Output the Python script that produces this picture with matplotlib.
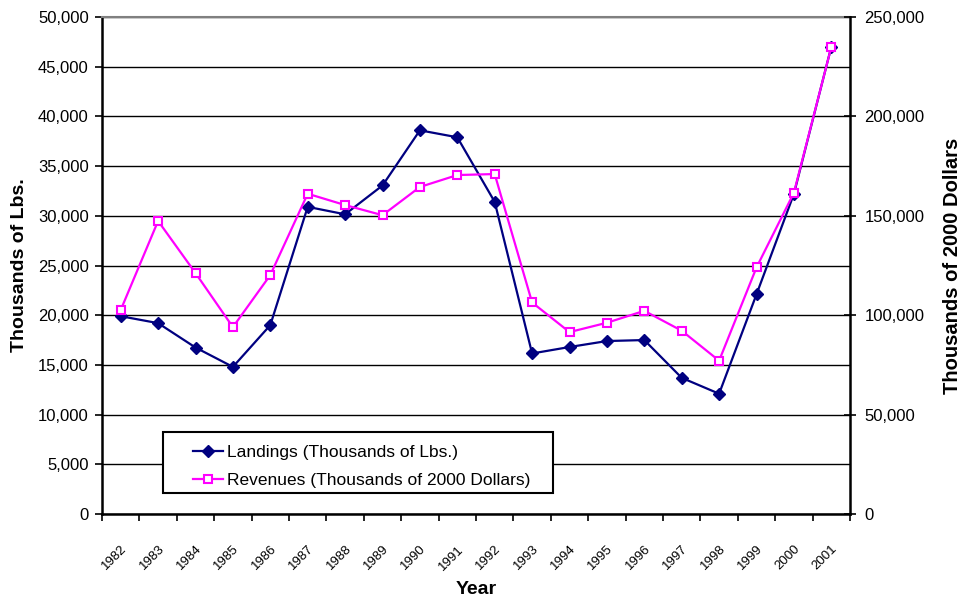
import numpy as np
import matplotlib.pyplot as plt
import matplotlib.transforms as mtransforms
from matplotlib.patches import Rectangle
from matplotlib.ticker import FuncFormatter

plt.rcParams['font.family'] = ['Liberation Sans', 'DejaVu Sans']

years = ['1982', '1983', '1984', '1985', '1986', '1987', '1988', '1989', '1990', '1991',
         '1992', '1993', '1994', '1995', '1996', '1997', '1998', '1999', '2000', '2001']
landings = [19900, 19200, 16750, 14800, 19000, 30900, 30150, 33050, 38600, 37900,
            31400, 16150, 16800, 17400, 17500, 13700, 12100, 22100, 32200, 47000]
revenues = [102600, 147400, 121200, 94000, 120200, 161100, 155400, 150300, 164500, 170500,
            171000, 106400, 91500, 96200, 102200, 92200, 77100, 124000, 161600, 234900]

navy = '#000080'
magenta = '#FF00FF'
comma = FuncFormatter(lambda v, p: f'{v:,.0f}')

fig = plt.figure(figsize=(9.61, 5.99), dpi=100)
ax = fig.add_axes([102 / 961, 85 / 599, 748 / 961, 497 / 599])
ax2 = ax.twinx()

x = np.arange(len(years))
l1, = ax.plot(x, landings, color=navy, lw=1.6, marker='D', ms=6,
              mfc=navy, mec=navy, label='Landings (Thousands of Lbs.)')
l2, = ax2.plot(x, revenues, color=magenta, lw=1.6, marker='s', ms=6,
               mfc='white', mec=magenta, mew=1.5, label='Revenues (Thousands of 2000 Dollars)')

ax.set_xlim(-0.5, len(years) - 0.5)
ax.set_ylim(0, 50000)
ax2.set_ylim(0, 250000)
ax.set_yticks(np.arange(0, 50001, 5000))
ax2.set_yticks(np.arange(0, 250001, 50000))
ax.yaxis.set_major_formatter(comma)
ax2.yaxis.set_major_formatter(comma)
ax.yaxis.grid(True, color='black', lw=1)
ax.set_axisbelow(True)

# tick marks on the category boundaries, labels on the centres
ax.set_xticks(np.arange(-0.5, len(years), 1))
ax.set_xticklabels([])
ax.set_xticks(x, minor=True)
ax.set_xticklabels(years, minor=True, rotation=45, ha='right', va='top',
                   rotation_mode='anchor', fontsize=9.5)
shift = mtransforms.ScaledTranslation(-8 / 100, 0, fig.dpi_scale_trans)
for lab in ax.get_xticklabels(minor=True):
    lab.set_transform(lab.get_transform() + shift)

ax.tick_params(axis='x', which='major', direction='out', length=5, width=1.2)
ax.tick_params(axis='x', which='minor', length=0, pad=21)
ax.tick_params(axis='y', direction='out', length=5, width=1.2, labelsize=12, pad=4.5)
ax2.tick_params(axis='y', direction='inout', length=9, width=1.2, labelsize=12, pad=6)

for s in ['left', 'bottom']:
    ax.spines[s].set_linewidth(1.8)
ax.spines['top'].set_color('#808080')
ax.spines['top'].set_linewidth(1.5)
ax.spines['right'].set_visible(False)
for s in ['left', 'bottom', 'top']:
    ax2.spines[s].set_visible(False)
ax2.spines['right'].set_linewidth(1.8)

ax.set_ylabel('Thousands of Lbs.', fontsize=14, fontweight='bold', labelpad=7)
ax2.set_ylabel('Thousands of 2000 Dollars', fontsize=14.5, fontweight='bold', labelpad=13)
ax.set_xlabel('Year', fontsize=14, fontweight='bold', labelpad=6)

# legend box drawn separately so its padding matches the original
ax2.add_patch(Rectangle((61 / 748, 21 / 497), 390 / 748, 61 / 497, transform=ax2.transAxes,
                        facecolor='white', edgecolor='black', lw=1.5, zorder=4))
leg = ax2.legend(handles=[l1, l2], loc='center left',
                 bbox_to_anchor=(91 / 748, 47.5 / 497), fontsize=12.5, frameon=False,
                 borderpad=0, borderaxespad=0, handlelength=1.75,
                 handletextpad=0.2, labelspacing=0.75)
leg.set_zorder(5)

fig.savefig('out.png', dpi=100)
